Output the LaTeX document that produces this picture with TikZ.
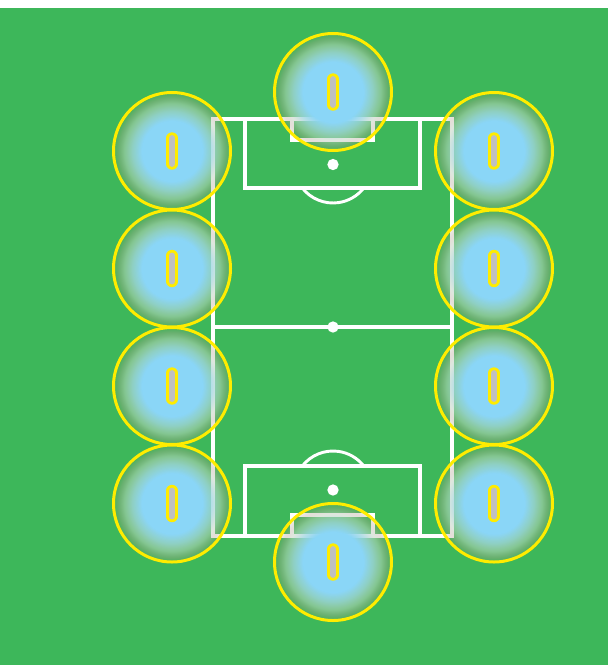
\documentclass[tikz,border=0pt]{standalone}
\usetikzlibrary{fadings}
\definecolor{pitchgreen}{RGB}{61,183,90}
\definecolor{zoneblue}{RGB}{138,214,247}
\definecolor{zonemidA}{RGB}{165,215,225}
\definecolor{zonemidB}{RGB}{195,212,195}
\definecolor{zonemidC}{RGB}{185,165,150}
\definecolor{zoneedge}{RGB}{150,150,120}
\definecolor{ringyellow}{RGB}{255,236,0}
\definecolor{capgray}{RGB}{192,192,192}
\pgfdeclareradialshading{zonefadeshade}{\pgfpoint{0bp}{0bp}}{%
 color(0bp)=(pgftransparent!0);
 color(13bp)=(pgftransparent!0);
 color(17bp)=(pgftransparent!22);
 color(20.5bp)=(pgftransparent!48);
 color(23bp)=(pgftransparent!65);
 color(25bp)=(pgftransparent!85);
 color(50bp)=(pgftransparent!85)}
\pgfdeclarefading{zonefade}{\pgfuseshading{zonefadeshade}}
\pgfdeclareradialshading{zoneshade}{\pgfpoint{0bp}{0bp}}{%
 color(0bp)=(zoneblue);
 color(13bp)=(zoneblue);
 color(17bp)=(zonemidA);
 color(20.5bp)=(zonemidB);
 color(23bp)=(zonemidC);
 color(25bp)=(zoneedge);
 color(50bp)=(zoneedge)}
\tikzset{
 x=0.75pt,y=-0.75pt,
 pitchline/.style={draw=white,line width=2.35pt},
 archline/.style={draw=white,line width=2.2pt},
 spot/.style={circle,fill=white,inner sep=0pt,minimum size=8.5pt},
}
\newcommand{\zone}[3]{%
 \path[shading=zoneshade,path fading=zonefade,fit fading=true] (#2,#3) circle [radius=58.5];
 \draw[ringyellow,line width=2.25pt] (#2,#3) circle [radius=58.5];
 \draw[ringyellow,line cap=round,line width=8.7pt] (#2,#3-12.9) -- (#2,#3+12.9);
 \draw[capgray,line cap=round,line width=4.5pt] (#2,#3-12.9) -- (#2,#3+12.9);
 \coordinate (#1) at (#2,#3);
}
\begin{document}
\begin{tikzpicture}
\useasboundingbox (0,0) rectangle (608,665);
\fill[white] (0,0) rectangle (608,665);
\fill[pitchgreen] (0,8) rectangle (608,665);
% pitch
\draw[pitchline] (213,119) rectangle (452,536);
\draw[pitchline] (213,327) -- (452,327);
\draw[pitchline] (245,119) rectangle (420,188);
\draw[pitchline] (245,536) rectangle (420,466);
\draw[pitchline] (292,119) rectangle (373,140);
\draw[pitchline] (292,536) rectangle (373,515);
\draw[archline] (302.3,188) arc[start angle=218,end angle=322,x radius=39,y radius=-39];
\draw[archline] (302.3,466) arc[start angle=142,end angle=38,x radius=39,y radius=-39];
\node[spot] (spotA) at (333,164.5) {};
\node[spot] (spotB) at (333,327) {};
\node[spot] (spotC) at (333,490) {};
% zones
\zone{t}{333}{92}
\zone{b}{333}{562}
\zone{la}{172}{151}
\zone{lb}{172}{268.5}
\zone{lc}{172}{386}
\zone{ld}{172}{503.5}
\zone{ra}{494}{151}
\zone{rb}{494}{268.5}
\zone{rc}{494}{386}
\zone{rd}{494}{503.5}
\end{tikzpicture}
\end{document}
